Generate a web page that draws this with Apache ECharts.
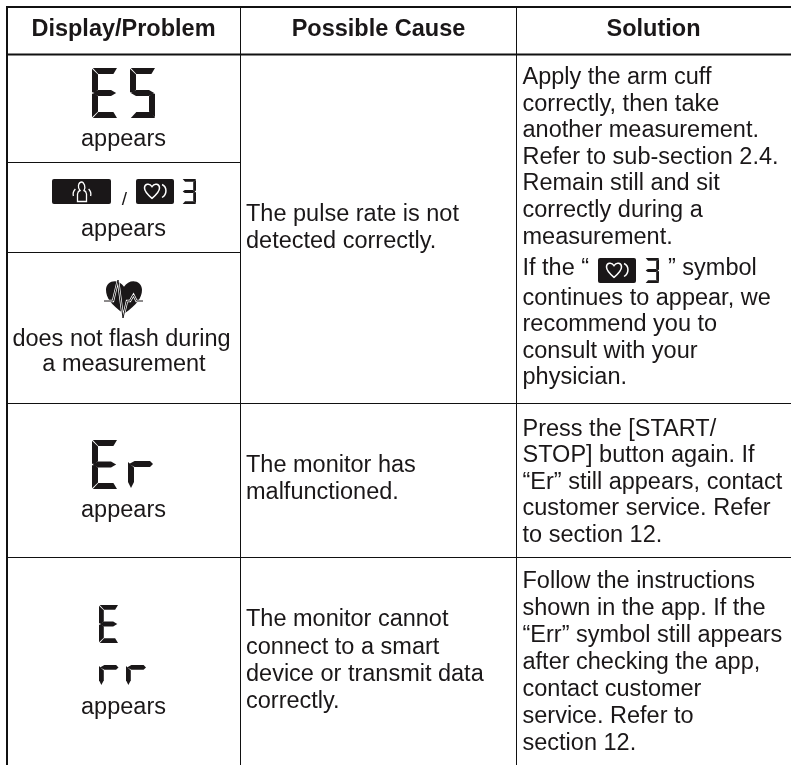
<!DOCTYPE html>
<html><head><meta charset="utf-8">
<style>html,body{margin:0;padding:0;background:#fff}#c{width:791px;height:765px}</style>
<script src="https://cdn.jsdelivr.net/npm/echarts@6/dist/echarts.min.js"></script>
</head><body><div id="c"></div>
<script>
const headers = ["Display/Problem", "Possible Cause", "Solution"];
const appearsLabel = "appears";
const flashLabel = ["does not flash during", "a measurement"];
const pulseCause = ["The pulse rate is not", "detected correctly."];
const malfunctionCause = ["The monitor has", "malfunctioned."];
const connectCause = ["The monitor cannot", "connect to a smart", "device or transmit data", "correctly."];
const pulseSolutionA = ["Apply the arm cuff", "correctly, then take", "another measurement.", "Refer to sub-section 2.4.", "Remain still and sit", "correctly during a", "measurement."];
const symbolLineParts = ["If the \u201C", "\u201D symbol"];
const pulseSolutionB = ["continues to appear, we", "recommend you to", "consult with your", "physician."];
const malfunctionSolution = ["Press the [START/", "STOP] button again. If", "\u201CEr\u201D still appears, contact", "customer service. Refer", "to section 12."];
const connectSolution = ["Follow the instructions", "shown in the app. If the", "\u201CErr\u201D symbol still appears", "after checking the app,", "contact customer", "service. Refer to", "section 12."];

const INK = '#1a1718', FONT = '"Liberation Sans", Arial, sans-serif', SIZE = 23.5;
const g = [];
function ln(x1, y1, x2, y2, w) { g.push({type:'line', silent:true, shape:{x1,y1,x2,y2}, style:{stroke:'#111', lineWidth:w}}); }
function txt(s, x, y, align, bold, size) {
  g.push({type:'text', x, y:y+2, silent:true, style:{text:s, x:0, y:0, fill:INK, align, verticalAlign:'middle',
    font:(bold?'bold ':'')+(size||SIZE)+'px '+FONT}});
}
function col(lines, x, ys, align) { lines.forEach((s,i)=>txt(s,x,ys[i],align)); }

// rules
ln(7,6,7,765,2); ln(6,7,791,7,2); ln(6,54.5,791,54.5,2);
ln(240.5,7,240.5,765,1); ln(516.5,7,516.5,765,1);
ln(7,162.5,240,162.5,1); ln(7,252.5,240,252.5,1);
ln(7,403.5,791,403.5,1); ln(7,557.5,791,557.5,1);

// text
txt(headers[0],123.5,28,'center',true); txt(headers[1],378.5,28,'center',true); txt(headers[2],653.5,28,'center',true);
[138,228,509,706].forEach(y=>txt(appearsLabel,123.5,y,'center'));
txt(flashLabel[0],121.5,338,'center'); txt(flashLabel[1],124,363,'center');
const X2=246, X3=522.5;
col(pulseCause,X2,[213,240],'left');
col(malfunctionCause,X2,[464,491],'left');
col(connectCause,X2,[618,646,673,700],'left');
col(pulseSolutionA,X3,[76,103,129,156,182,209,236],'left');
txt(symbolLineParts[0],X3,267,'left'); txt(symbolLineParts[1],668,267,'left');
col(pulseSolutionB,X3,[297,323,350,376],'left');
col(malfunctionSolution,X3,[428,454,481,507,534],'left');
col(connectSolution,X3,[580,607,634,661,688,715,742],'left');
txt('/',124.5,198,'center',false,19);

// seven-segment pictograms
function segs(on, x, y, w, h, t) {
  const gap = Math.max(0.7, t*0.14), m = y+h/2, P = {
    a:[[x+gap,y],[x+w,y],[x+w-t*0.6,y+t],[x+t+gap*0.4,y+t]],
    d:[[x+gap,y+h],[x+w,y+h],[x+w-t*0.6,y+h-t],[x+t+gap*0.4,y+h-t]],
    f:[[x,y+gap],[x+t,y+t+gap*0.5],[x+t,m-t/2-gap*0.3],[x+t*0.5,m-gap*0.6],[x,m-gap]],
    e:[[x,y+h-gap],[x+t,y+h-t-gap*0.5],[x+t,m+t/2+gap*0.3],[x+t*0.5,m+gap*0.6],[x,m+gap]],
    b:[[x+w,y+gap],[x+w-t,y+t+gap*0.5],[x+w-t,m-t/2-gap*0.3],[x+w-t*0.5,m-gap*0.6],[x+w,m-gap]],
    c:[[x+w,y+h-gap],[x+w-t,y+h-t-gap*0.5],[x+w-t,m+t/2+gap*0.3],[x+w-t*0.5,m+gap*0.6],[x+w,m+gap]],
    g:[[x+gap,m],[x+t,m-t/2],[x+w-t,m-t/2],[x+w-gap,m],[x+w-t,m+t/2],[x+t,m+t/2]]
  };
  return on.split('').map(k=>({type:'polygon', shape:{points:P[k]}, style:{fill:INK}}));
}
function rSeg(x, y, w, h, t) {
  return [
    {type:'polygon', shape:{points:[[x+1,y+t/2],[x+t+0.6,y],[x+w-t*0.5,y],[x+w,y+t/2],[x+w-t*0.5,y+t],[x+t+0.6,y+t]]}, style:{fill:INK}},
    {type:'polygon', shape:{points:[[x,y+1],[x+t,y+t+0.6],[x+t,y+h-t],[x+t*0.5,y+h],[x,y+h-t]]}, style:{fill:INK}}
  ];
}
const HEART = 'M8 16 C2 11 0 8 0 5 C0 1 5 -1 8 3.5 C11 -1 16 1 16 5 C16 8 14 11 8 16 Z';
function heartBadge(dx, dy) {
  return {type:'group', x:dx, y:dy, children:[
    {type:'rect', shape:{x:136,y:179,width:38,height:25,r:2}, style:{fill:INK}},
    {type:'path', shape:{pathData:HEART, x:144.5, y:183.5, width:15, height:15.5}, style:{fill:null, stroke:'#fff', lineWidth:1.5}},
    {type:'path', shape:{pathData:'M0 0 C6 3 6 11 0 15', x:161.5, y:184.5, width:5, height:13}, style:{fill:null, stroke:'#fff', lineWidth:1.5}}
  ]};
}
function renderIcons() {
  const c = [];
  c.push(...segs('afged',92,68,25,50,6), ...segs('afgcd',130,68,25,50,6));
  c.push(...segs('afged',92,440,25,49,6), ...rSeg(128,461,25,27,6));
  c.push(...segs('afged',99,605,19,38,4.8), ...rSeg(99,665,19.5,20,4.8), ...rSeg(126,665,20,20,4.8));
  c.push(...segs('abgcd',182,179,14,25,2.8), ...segs('abgcd',645,258,14,25,2.8));
  c.push({type:'rect', shape:{x:52,y:179,width:59,height:25,r:2}, style:{fill:INK}});
  const pStyle = {fill:null, stroke:'#fff', lineWidth:1.3};
  c.push({type:'path', shape:{pathData:'M0 19.5 L9 19.5 L9 12 Q8.5 9 6.5 8.5 Q8 6 7 3 Q5.5 0 4.5 0 Q1.5 0 1 3.5 Q0.5 6 2.5 8.5 Q0.5 9 0 12 Z', x:77.5,y:182,width:9,height:19.5}, style:pStyle});
  c.push({type:'path', shape:{pathData:'M2.5 0 Q-0.5 3 0.5 7', x:73,y:189,width:2.5,height:7}, style:pStyle});
  c.push({type:'path', shape:{pathData:'M0 0 Q3 3 2 7', x:88.5,y:189,width:2.5,height:7}, style:pStyle});
  c.push(heartBadge(0,0), heartBadge(462,79));
  c.push({type:'path', shape:{pathData:'M18 33 C5 24 0 17 0 9 C0 -1 13 -3 18 6 C23 -3 36 -1 36 9 C36 17 31 24 18 33 Z', x:106,y:281,width:36,height:33}, style:{fill:INK}});
  const pulse = [[104,301],[113,301],[118,280],[123,318],[127,301],[130,301],[133.5,295],[136.5,301],[143,301]];
  c.push({type:'polyline', shape:{points:pulse}, style:{fill:null, stroke:'#fff', lineWidth:2.4}});
  c.push({type:'polyline', shape:{points:pulse}, style:{fill:null, stroke:INK, lineWidth:1}});
  return {type:'group', children:c};
}

const chart = echarts.init(document.getElementById('c'), null, {renderer:'canvas'});
chart.setOption({
  animation:false, backgroundColor:'#fff',
  graphic:{elements:g},
  series:[{type:'custom', coordinateSystem:'none', silent:true, data:[0], renderItem:renderIcons}]
});
</script></body></html>
